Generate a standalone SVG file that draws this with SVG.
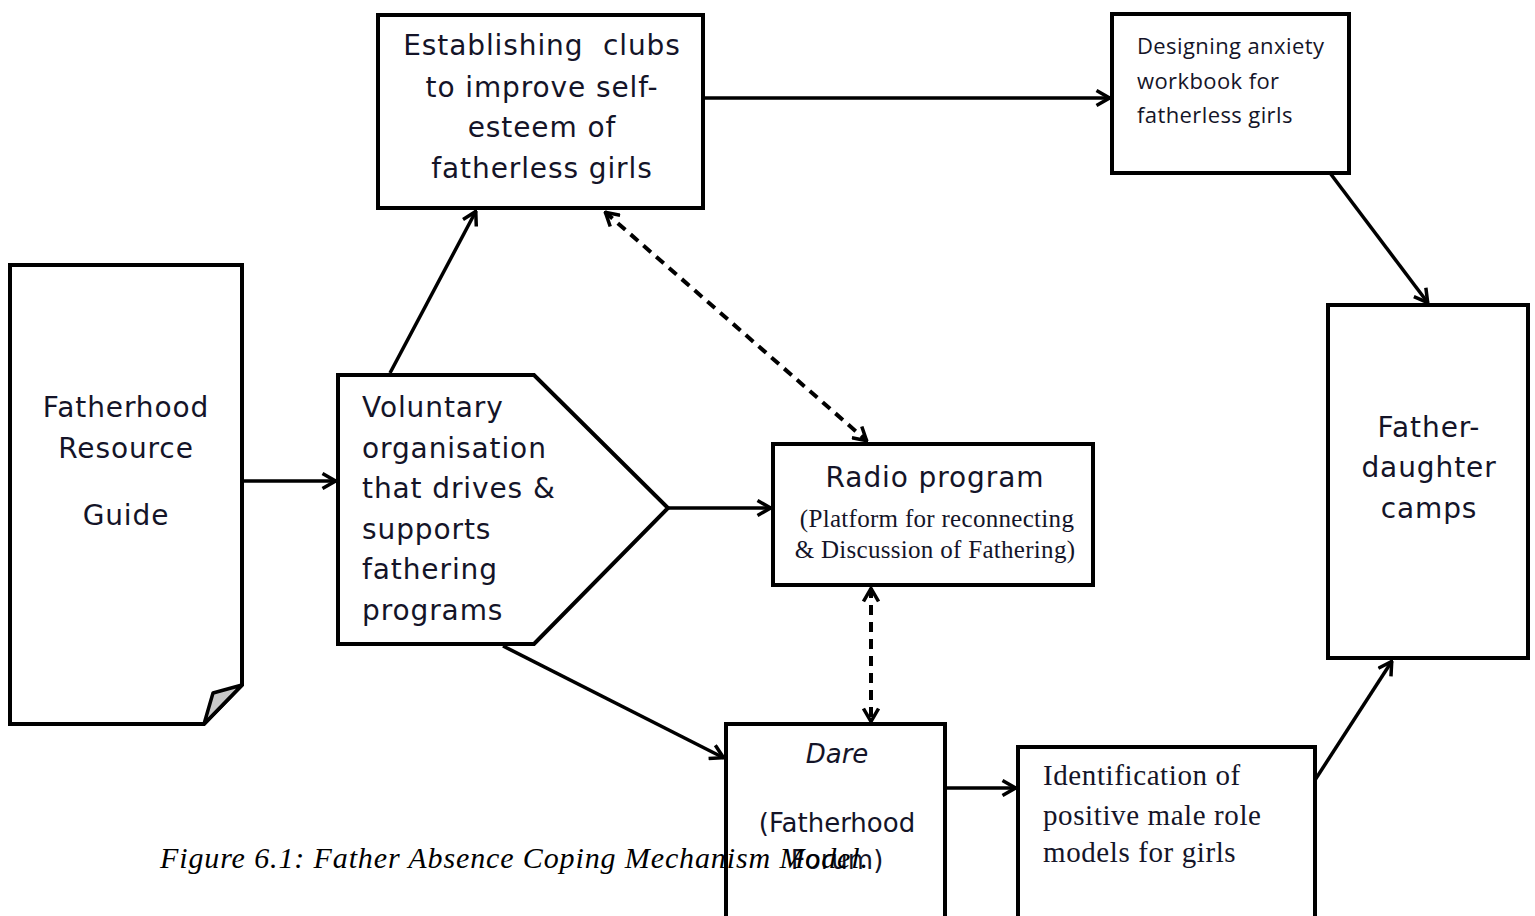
<svg xmlns="http://www.w3.org/2000/svg" width="1535" height="916" viewBox="0 0 1535 916">
<style>
.box{fill:#fff;stroke:#000;stroke-width:4;stroke-linejoin:miter}
.ln{fill:none;stroke:#000;stroke-width:3.5}
.dash{fill:none;stroke:#000;stroke-width:4;stroke-dasharray:10 7}
.t{font-family:"DejaVu Sans",sans-serif;font-size:28px;letter-spacing:0.9px;fill:#141428}
.d{font-family:"DejaVu Sans",sans-serif;font-size:26px;fill:#141428;text-anchor:middle}
.c{text-anchor:middle}
.cal{font-family:"Open Sans","Noto Sans",sans-serif;font-size:22px;letter-spacing:0.4px;fill:#141428}
.ser{font-family:"Liberation Serif",serif;fill:#141428}
.cap{font-family:"Liberation Serif",serif;font-style:italic;font-size:30px;fill:#000}
</style>
<defs>
<marker id="ah" viewBox="0 0 16 18" refX="15" refY="9" markerWidth="16" markerHeight="18" markerUnits="userSpaceOnUse" orient="auto-start-reverse">
<path d="M1.5,1.5 L14.5,9 L1.5,16.5" fill="none" stroke="#000" stroke-width="3.5"/>
</marker>
</defs>
<g id="resource-guide">
<path class="box" d="M10,265 H242 V685 L204,724 H10 Z"/>
<path d="M242,685 L213,693 L204,724 Z" fill="#c8c8c8" stroke="#000" stroke-width="3.5" stroke-linejoin="round"/>
<text class="t c" x="126" y="417">Fatherhood</text>
<text class="t c" x="126" y="458">Resource</text>
<text class="t c" x="126" y="525">Guide</text>
</g>
<g id="voluntary-org">
<path class="box" d="M338,375 H534 L668,508 L534,644 H338 Z"/>
<text class="t" x="362" y="417">Voluntary</text>
<text class="t" x="362" y="458">organisation</text>
<text class="t" x="362" y="498">that drives &amp;</text>
<text class="t" x="362" y="539">supports</text>
<text class="t" x="362" y="579">fathering</text>
<text class="t" x="362" y="620">programs</text>
</g>
<g id="clubs">
<rect class="box" x="378" y="15" width="325" height="193"/>
<text class="t c" x="542" y="55" xml:space="preserve">Establishing  clubs</text>
<text class="t c" x="542" y="97">to improve self-</text>
<text class="t c" x="542" y="137">esteem of</text>
<text class="t c" x="542" y="178">fatherless girls</text>
</g>
<g id="workbook">
<rect class="box" x="1112" y="14" width="237" height="159"/>
<text class="cal" x="1137" y="54">Designing anxiety</text>
<text class="cal" x="1137" y="89">workbook for</text>
<text class="cal" x="1137" y="123">fatherless girls</text>
</g>
<g id="radio">
<rect class="box" x="773" y="444" width="320" height="141"/>
<text class="t c" x="935" y="487">Radio program</text>
<text class="ser c" x="937" y="527" font-size="25" letter-spacing="0.3">(Platform for reconnecting</text>
<text class="ser c" x="935" y="558" font-size="25" letter-spacing="0.3">&amp; Discussion of Fathering)</text>
</g>
<g id="camps">
<rect class="box" x="1328" y="305" width="200" height="353"/>
<text class="t c" x="1429" y="437">Father-</text>
<text class="t c" x="1429" y="477">daughter</text>
<text class="t c" x="1429" y="518">camps</text>
</g>
<g id="dare">
<rect class="box" x="726" y="724" width="219" height="200"/>
<text class="d" x="837" y="763" font-style="italic">Dare</text>
<text class="d" x="837" y="832">(Fatherhood</text>
<text class="d" x="837" y="869">Forum)</text>
</g>
<g id="role-models">
<rect class="box" x="1018" y="747" width="297" height="175"/>
<text class="ser" x="1043" y="785" font-size="29" letter-spacing="0.6">Identification of</text>
<text class="ser" x="1043" y="825" font-size="29" letter-spacing="0.6">positive male role</text>
<text class="ser" x="1043" y="862" font-size="29" letter-spacing="0.6">models for girls</text>
</g>
<g id="connectors">
<line class="ln" x1="242" y1="481" x2="336" y2="481" marker-end="url(#ah)"/>
<line class="ln" x1="390" y1="373" x2="476" y2="211" marker-end="url(#ah)"/>
<line class="ln" x1="668" y1="508" x2="771" y2="508" marker-end="url(#ah)"/>
<line class="ln" x1="503" y1="646" x2="724" y2="758" marker-end="url(#ah)"/>
<line class="ln" x1="703" y1="98" x2="1110" y2="98" marker-end="url(#ah)"/>
<line class="ln" x1="1330" y1="173" x2="1428" y2="303" marker-end="url(#ah)"/>
<line class="ln" x1="945" y1="788" x2="1016" y2="788" marker-end="url(#ah)"/>
<line class="ln" x1="1315" y1="780" x2="1392" y2="661" marker-end="url(#ah)"/>
<line class="dash" x1="605" y1="212" x2="867" y2="441" marker-start="url(#ah)" marker-end="url(#ah)"/>
<line class="dash" x1="871" y1="588" x2="871" y2="722" marker-start="url(#ah)" marker-end="url(#ah)"/>
</g>
<text class="cap" x="160" y="868" textLength="708" lengthAdjust="spacing">Figure 6.1: Father Absence Coping Mechanism Model.</text>
</svg>
